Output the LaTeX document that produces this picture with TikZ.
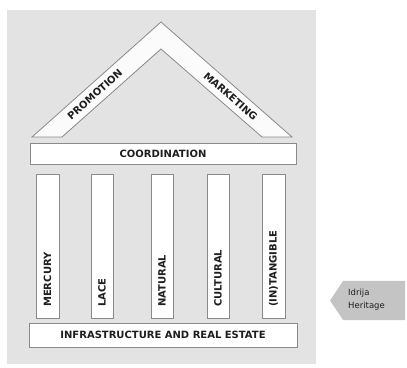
\documentclass[tikz,border=0pt]{standalone}
\usepackage{fontspec}
\setmainfont{DejaVu Sans}
\usetikzlibrary{positioning}
\definecolor{bgc}{HTML}{E3E3E3}
\definecolor{linec}{HTML}{8A8A8A}
\definecolor{txtc}{HTML}{1E1E1E}
\definecolor{arrc}{HTML}{C4C4C4}
\tikzset{
  x=1pt, y=1pt,
  boxst/.style={draw=linec, line width=0.8pt, fill=white},
  lbl/.style={font=\bfseries\fontsize{10}{12}\selectfont, text=txtc, inner sep=0pt},
  pill/.style={lbl, rotate=90, anchor=west},
  small/.style={font=\fontsize{8.5}{13}\selectfont, text=txtc, align=left, inner sep=0pt}
}
\begin{document}
\begin{tikzpicture}
\useasboundingbox (0,0) rectangle (407,367);
% background panel
\fill[bgc] (7,3) rectangle (316,357);
% roof
\coordinate (oL) at (32,230);
\coordinate (oA) at (161,345);
\coordinate (oR) at (292,230);
\coordinate (iL) at (62,230);
\coordinate (iA) at (161,318);
\coordinate (iR) at (262,230);
\filldraw[draw=linec, line width=0.8pt, fill=white!60!bgc!40!white] (oL) -- (oA) -- (oR) -- (iR) -- (iA) -- (iL) -- cycle;
\coordinate (mL) at (47,230);
\coordinate (mA) at (161,331.5);
\coordinate (mR) at (277,230);
\path (mL) -- (mA) node[lbl, pos=0.42, sloped] (promo) {PROMOTION};
\path (mA) -- (mR) node[lbl, pos=0.6, sloped] (mark) {MARKETING};
% coordination
\draw[boxst] (30,203) rectangle (296,224);
\node[lbl] (coord) at (163,213.5) {COORDINATION};
% pillars
\draw[boxst] (36,49) rectangle (59,193);
\draw[boxst] (91,49) rectangle (113,193);
\draw[boxst] (151,49) rectangle (173,193);
\draw[boxst] (207,49) rectangle (229,193);
\draw[boxst] (262,49) rectangle (285,193);
\node[pill] (p1) at (47.5,60) {MERCURY};
\node[pill] (p2) at (102,60) {LACE};
\node[pill] (p3) at (162,60) {NATURAL};
\node[pill] (p4) at (218,60) {CULTURAL};
\node[pill] (p5) at (273.5,60) {(IN)TANGIBLE};
% base
\draw[boxst] (29,20) rectangle (297,44);
\node[lbl] (base) at (163,32) {INFRASTRUCTURE AND REAL ESTATE};
% arrow
\fill[arrc] (405,86) -- (343,86) -- (330,66.5) -- (343,47) -- (405,47) -- cycle;
\node[small, anchor=west] (arrtxt) at (348,67) {Idrija\\Heritage};
\end{tikzpicture}
\end{document}
